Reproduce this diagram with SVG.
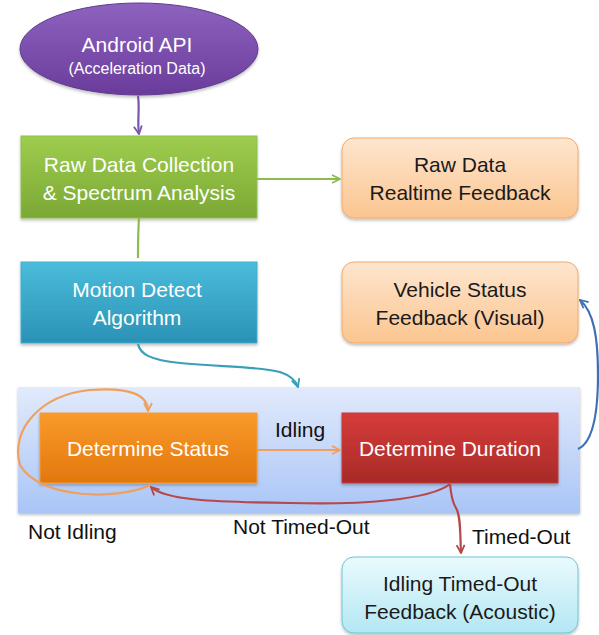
<svg xmlns="http://www.w3.org/2000/svg" width="599" height="635" viewBox="0 0 599 635">
<defs>
<linearGradient id="gPurple" x1="0" y1="0" x2="0" y2="1"><stop offset="0" stop-color="#8e62bf"/><stop offset="1" stop-color="#6a3c9b"/></linearGradient>
<linearGradient id="gGreen" x1="0" y1="0" x2="0" y2="1"><stop offset="0" stop-color="#9fcd4f"/><stop offset="1" stop-color="#7aa834"/></linearGradient>
<linearGradient id="gTeal" x1="0" y1="0" x2="0" y2="1"><stop offset="0" stop-color="#4bbcdb"/><stop offset="1" stop-color="#2a92b6"/></linearGradient>
<linearGradient id="gPeach" x1="0" y1="0" x2="0" y2="1"><stop offset="0" stop-color="#fee6cf"/><stop offset="1" stop-color="#fbc58f"/></linearGradient>
<linearGradient id="gOrange" x1="0" y1="0" x2="0" y2="1"><stop offset="0" stop-color="#fa9a2a"/><stop offset="1" stop-color="#e2770e"/></linearGradient>
<linearGradient id="gRed" x1="0" y1="0" x2="0" y2="1"><stop offset="0" stop-color="#d63c3a"/><stop offset="1" stop-color="#a82a28"/></linearGradient>
<linearGradient id="gCyan" x1="0" y1="0" x2="0" y2="1"><stop offset="0" stop-color="#eafafd"/><stop offset="1" stop-color="#b3e7f3"/></linearGradient>
<linearGradient id="gPanel" x1="0" y1="0" x2="0" y2="1"><stop offset="0" stop-color="#e2eafc"/><stop offset="1" stop-color="#a9c5f6"/></linearGradient>
<filter id="sh" x="-10%" y="-10%" width="120%" height="130%"><feDropShadow dx="0" dy="2" stdDeviation="1.5" flood-color="#000" flood-opacity="0.25"/></filter>
<marker id="aPurple" viewBox="0 0 10 10" refX="9" refY="5" markerWidth="10" markerHeight="10" markerUnits="userSpaceOnUse" orient="auto"><path d="M1,1 L9,5 L1,9" fill="none" stroke="#7a56aa" stroke-width="1.8"/></marker>
<marker id="aGreen" viewBox="0 0 10 10" refX="9" refY="5" markerWidth="10" markerHeight="10" markerUnits="userSpaceOnUse" orient="auto"><path d="M1,1 L9,5 L1,9" fill="none" stroke="#8cbc4c" stroke-width="1.8"/></marker>
<marker id="aTeal" viewBox="0 0 10 10" refX="9" refY="5" markerWidth="10" markerHeight="10" markerUnits="userSpaceOnUse" orient="auto"><path d="M1,1 L9,5 L1,9" fill="none" stroke="#3a9fb8" stroke-width="1.8"/></marker>
<marker id="aOrange" viewBox="0 0 10 10" refX="9" refY="5" markerWidth="10" markerHeight="10" markerUnits="userSpaceOnUse" orient="auto"><path d="M1,1 L9,5 L1,9" fill="none" stroke="#f0a05c" stroke-width="1.8"/></marker>
<marker id="aRed" viewBox="0 0 10 10" refX="9" refY="5" markerWidth="10" markerHeight="10" markerUnits="userSpaceOnUse" orient="auto"><path d="M1,1 L9,5 L1,9" fill="none" stroke="#b8474a" stroke-width="1.8"/></marker>
<marker id="aBlue" viewBox="0 0 10 10" refX="9" refY="5" markerWidth="10" markerHeight="10" markerUnits="userSpaceOnUse" orient="auto"><path d="M1,1 L9,5 L1,9" fill="none" stroke="#4070b4" stroke-width="1.8"/></marker>
</defs>
<style>
text{font-family:"Liberation Sans",Arial,sans-serif;font-size:20px;text-anchor:middle}
.w{fill:#ffffff}
.d{fill:#1a1a1a}
.lbl{fill:#111111;text-anchor:start;font-size:21px}
.big{font-size:21px}
.small{font-size:16px}
.c{fill:none;stroke-width:2.2}
</style>
<rect id="panel" x="18" y="387" width="562" height="126" fill="url(#gPanel)" filter="url(#sh)"/>
<g id="android-api"><ellipse cx="139" cy="49" rx="119" ry="46" fill="url(#gPurple)" stroke="#5d3a8a" stroke-width="1" filter="url(#sh)"/><text class="w big" x="137" y="52">Android API</text><text class="w small" x="137" y="74">(Acceleration Data)</text></g>
<g id="raw-data-collection"><rect x="21" y="136" width="236" height="82" fill="url(#gGreen)" stroke="#8fbf50" filter="url(#sh)"/><text class="w big" x="139" y="172">Raw Data Collection</text><text class="w big" x="139" y="200">&amp; Spectrum Analysis</text></g>
<g id="raw-data-feedback"><rect x="342" y="138" width="236" height="80" rx="12" fill="url(#gPeach)" stroke="#f2aa6a" filter="url(#sh)"/><text class="d big" x="460" y="172">Raw Data</text><text class="d big" x="460" y="200">Realtime Feedback</text></g>
<g id="motion-detect"><rect x="21" y="262" width="236" height="81" fill="url(#gTeal)" stroke="#42aecd" filter="url(#sh)"/><text class="w big" x="137" y="297">Motion Detect</text><text class="w big" x="137" y="325">Algorithm</text></g>
<g id="vehicle-status-feedback"><rect x="342" y="262" width="236" height="81" rx="12" fill="url(#gPeach)" stroke="#f2aa6a" filter="url(#sh)"/><text class="d big" x="460" y="297">Vehicle Status</text><text class="d big" x="460" y="325">Feedback (Visual)</text></g>
<g id="determine-status"><rect x="40" y="413" width="217" height="70" fill="url(#gOrange)" stroke="#f59a3a" filter="url(#sh)"/><text class="w big" x="148" y="456">Determine Status</text></g>
<g id="determine-duration"><rect x="342" y="413" width="216" height="70" fill="url(#gRed)" stroke="#c43a38" filter="url(#sh)"/><text class="w big" x="450" y="456">Determine Duration</text></g>
<g id="timed-out-feedback"><rect x="342" y="557" width="236" height="76" rx="12" fill="url(#gCyan)" stroke="#6dc6d6" filter="url(#sh)"/><text class="d big" x="460" y="591">Idling Timed-Out</text><text class="d big" x="460" y="619">Feedback (Acoustic)</text></g>
<g id="connectors">
<path class="c" d="M138,96 C140,110 137,120 139,134" stroke="#7a56aa" marker-end="url(#aPurple)"/>
<path class="c" d="M257,179 L340,179" stroke="#8cbc4c" marker-end="url(#aGreen)"/>
<path class="c" d="M139,218 C138,232 138,245 138,258" stroke="#8cbc4c"/>
<path class="c" d="M138,344 C140,354 150,360 180,363 C220,367 255,366 280,372 C292,376 296,381 298,387" stroke="#3a9fb8" marker-end="url(#aTeal)"/>
<path class="c" d="M257,450 L340,450" stroke="#f0a05c" marker-end="url(#aOrange)"/>
<path class="c" d="M150,485 C120,500 40,500 20,465 C10,430 40,395 90,390 C130,387 148,395 148,411" stroke="#f0a05c" marker-end="url(#aOrange)"/>
<path class="c" d="M450,484 C430,500 360,505 290,503 C210,502 165,500 151,487" stroke="#b8474a" marker-end="url(#aRed)"/>
<path class="c" d="M450,484 C451,495 452,502 456,508 C461,516 460,535 461,553" stroke="#b8474a" marker-end="url(#aRed)"/>
<path class="c" d="M578,449 C594,442 598,410 598,375 C598,338 594,312 580,300" stroke="#4070b4" marker-end="url(#aBlue)"/>
</g>
<g id="labels">
<text class="lbl" x="28" y="539">Not Idling</text>
<text class="lbl" x="275" y="437">Idling</text>
<text class="lbl" x="233" y="534">Not Timed-Out</text>
<text class="lbl" x="472" y="544">Timed-Out</text>
</g>
</svg>
